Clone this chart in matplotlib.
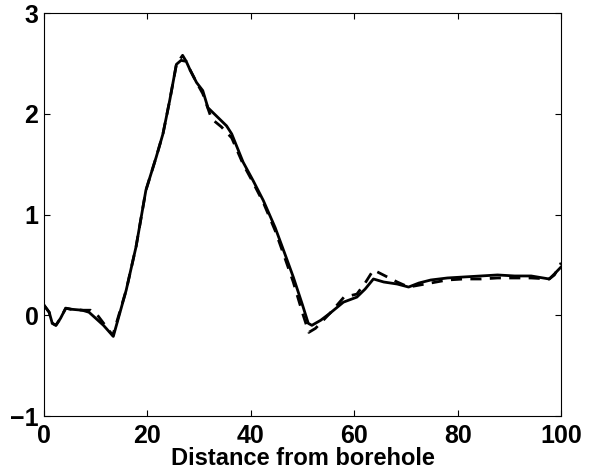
import numpy as np
import matplotlib
matplotlib.use("Agg")
import matplotlib.pyplot as plt

# =========================================
# DATA
# =========================================

x_solid = [0, 1.0, 1.6, 2.3, 3.2, 4.2, 5.2, 7.4, 8.7, 10, 11.5, 13.4,
           15.9, 17.8, 19.7, 21.7, 23, 24.3, 25.6, 26.5, 27.5, 28.2, 29.5,
           30.7, 31.7, 33.3, 35.3, 36.3, 38.5, 40.4, 42.4, 44.7, 46.5, 48.2,
           50, 51.1, 51.8, 53.5, 55.3, 57.9, 60.5, 62.1, 63.7, 65.7, 68.3,
           70.5, 72.5, 74.8, 78, 81.2, 84.5, 87.7, 91, 94.2, 97.7, 98.7, 100]
y_solid = [0.10, 0.03, -0.08, -0.10, -0.03, 0.07, 0.06, 0.05, 0.03, -0.03,
           -0.10, -0.21, 0.25, 0.68, 1.24, 1.57, 1.80, 2.13, 2.49, 2.53, 2.52,
           2.44, 2.31, 2.23, 2.06, 1.98, 1.88, 1.80, 1.52, 1.34, 1.14, 0.87,
           0.62, 0.38, 0.10, -0.08, -0.10, -0.05, 0.02, 0.13, 0.18, 0.26,
           0.36, 0.33, 0.31, 0.28, 0.32, 0.35, 0.37, 0.38, 0.39, 0.40, 0.39,
           0.39, 0.36, 0.41, 0.48]

x_dash = [0, 1.0, 1.6, 2.3, 3.2, 4.2, 5.2, 7.4, 9, 10.5, 13.3, 15.9, 17.8,
          19.7, 21.7, 23, 24.3, 25.6, 26.8, 27.5, 28.2, 29.5, 30.7, 32.4,
          34.3, 36.3, 38.5, 40.4, 42.4, 44.7, 46.5, 48.2, 50, 51.2, 52.5,
          55.3, 58, 60.5, 62.1, 63.7, 66, 68.3, 70.5, 74.8, 78, 81.2, 84.5,
          87.7, 91, 94.2, 97.7, 98.7, 100]
y_dash = [0.10, 0.03, -0.08, -0.10, -0.03, 0.07, 0.06, 0.05, 0.05, -0.01,
          -0.20, 0.25, 0.68, 1.24, 1.57, 1.80, 2.13, 2.49, 2.58, 2.52, 2.44,
          2.31, 2.20, 1.95, 1.87, 1.76, 1.50, 1.32, 1.12, 0.84, 0.58, 0.33,
          0.02, -0.17, -0.13, 0.02, 0.18, 0.21, 0.32, 0.45, 0.39, 0.33, 0.28,
          0.32, 0.35, 0.36, 0.36, 0.37, 0.37, 0.37, 0.36, 0.40, 0.52]

x_ticks = [0, 20, 40, 60, 80, 100]
y_ticks = [-1, 0, 1, 2, 3]

# =========================================
# PLOT
# =========================================

plt.rcParams["font.family"] = ["Liberation Sans", "DejaVu Sans"]
plt.rcParams["font.weight"] = "bold"

fig = plt.figure(figsize=(5.89, 4.73), dpi=100)
ax = fig.add_axes([0.0747, 0.1205, 0.878, 0.852])

ax.plot(x_solid, y_solid, color="black", linewidth=2.0, linestyle="-")
ax.plot(x_dash, y_dash, color="black", linewidth=2.0, linestyle=(0, (4, 3)))

ax.set_xlim(0, 100)
ax.set_ylim(-1, 3)
ax.set_xticks(x_ticks)
ax.set_yticks(y_ticks)

ax.tick_params(direction="in", top=True, right=True, length=4, width=0.8,
               labelsize=18)
ax.tick_params(axis="x", pad=6)
ax.tick_params(axis="y", pad=4)
for lab in ax.get_xticklabels() + ax.get_yticklabels():
    lab.set_fontweight("bold")
for sp in ax.spines.values():
    sp.set_linewidth(0.8)

ax.set_xlabel("Distance from borehole", fontsize=17, fontweight="bold",
              labelpad=-1)

fig.savefig("out.png", dpi=100)
